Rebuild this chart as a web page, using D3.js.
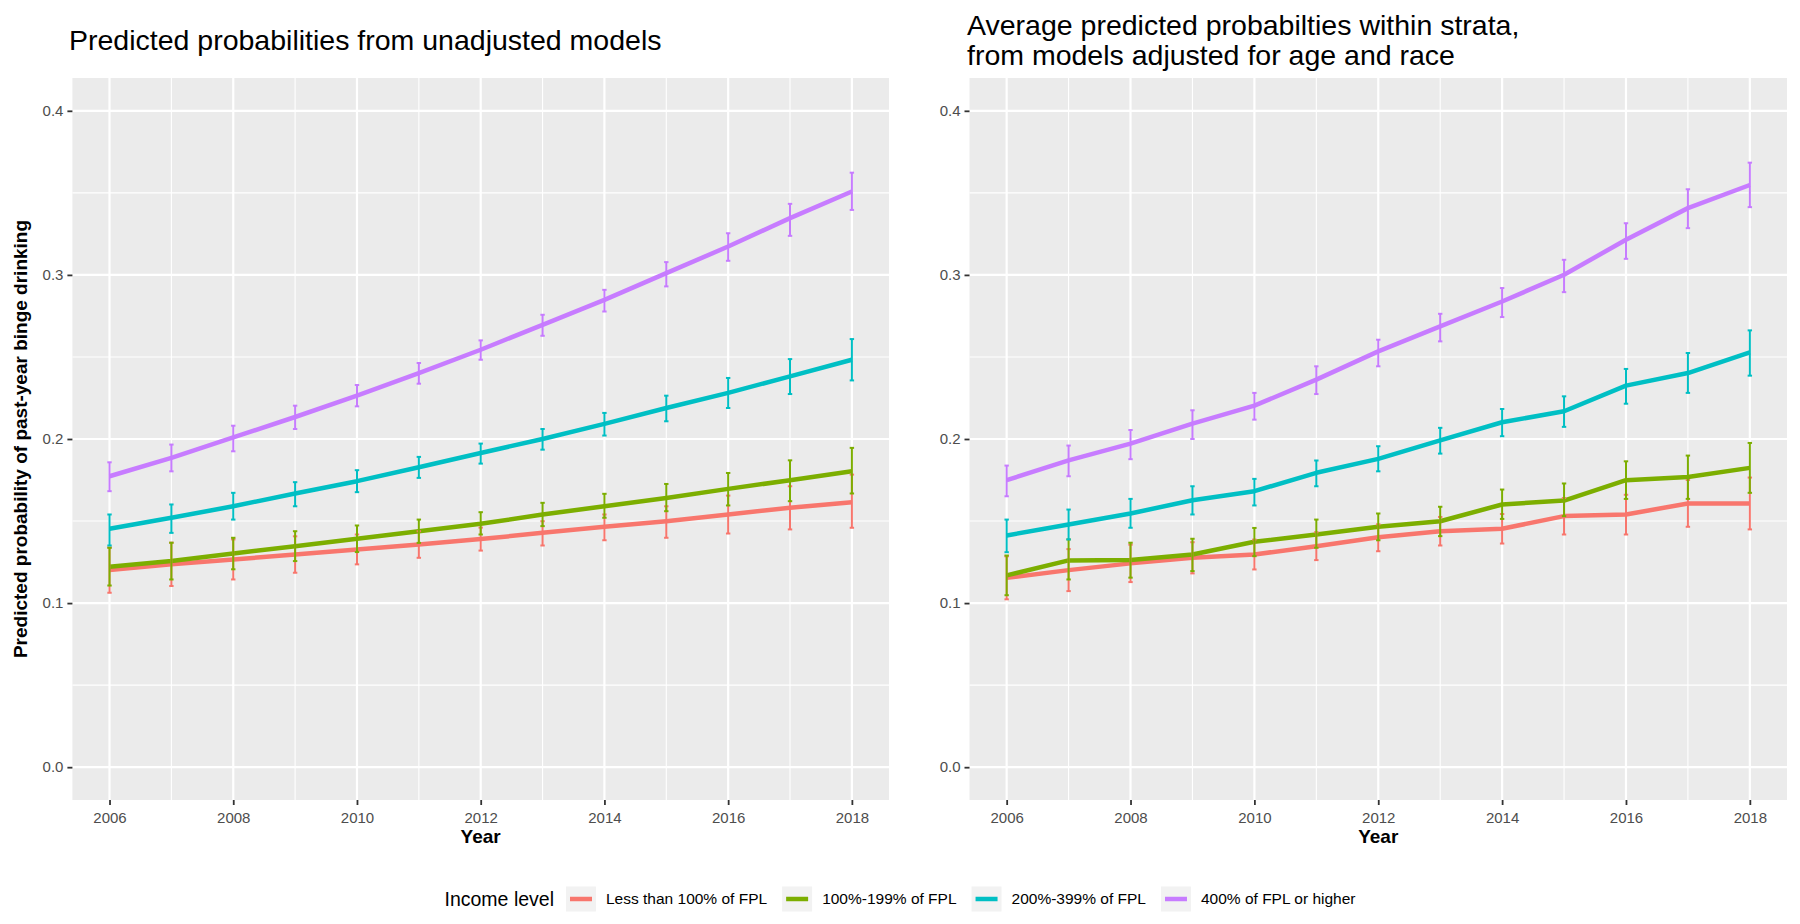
<!DOCTYPE html>
<html><head><meta charset="utf-8">
<script src="https://cdn.jsdelivr.net/npm/d3@7"></script>
<style>
body{margin:0;background:#fff}
svg{display:block}
text{font-family:"Liberation Sans", Arial, Helvetica, sans-serif}
</style>
</head><body>
<svg id="chart" width="1800" height="924"></svg>
<script>
// ---------------- DATA ----------------
const years = [2006,2007,2008,2009,2010,2011,2012,2013,2014,2015,2016,2017,2018];
const incomeLevels = ["Less than 100% of FPL","100%-199% of FPL","200%-399% of FPL","400% of FPL or higher"];
const incomeColors = ["#F8766D","#7CAE00","#00BFC4","#C77CFF"];
const yTicks = [0.0,0.1,0.2,0.3,0.4];
const xTicks = [2006,2008,2010,2012,2014,2016,2018];
const titleLeft = ["Predicted probabilities from unadjusted models"];
const titleRight = ["Average predicted probabilties within strata,","from models adjusted for age and race"];
const xTitle = "Year";
const yTitle = "Predicted probability of past-year binge drinking";
const legendTitle = "Income level";

// Unadjusted models (left panel)
const unadjLt100    = [0.1201,0.1236,0.1266,0.1296,0.1327,0.1357,0.1390,0.1428,0.1465,0.1499,0.1540,0.1581,0.1615];
const unadjLt100Lo  = [0.1063,0.1104,0.1144,0.1185,0.1236,0.1276,0.1320,0.1351,0.1383,0.1398,0.1424,0.1449,0.1459];
const unadjLt100Hi  = [0.1339,0.1368,0.1388,0.1407,0.1418,0.1438,0.1460,0.1499,0.1540,0.1590,0.1655,0.1712,0.1783];
const unadj100      = [0.1222,0.1256,0.1302,0.1347,0.1392,0.1438,0.1483,0.1540,0.1590,0.1641,0.1696,0.1749,0.1803];
const unadj100Lo    = [0.1107,0.1144,0.1206,0.1256,0.1311,0.1367,0.1418,0.1469,0.1520,0.1560,0.1595,0.1621,0.1668];
const unadj100Hi    = [0.1337,0.1368,0.1398,0.1438,0.1473,0.1509,0.1554,0.1611,0.1666,0.1726,0.1793,0.1870,0.1946];
const unadj200      = [0.1453,0.1520,0.1590,0.1668,0.1743,0.1828,0.1915,0.2000,0.2092,0.2189,0.2281,0.2382,0.2483];
const unadj200Lo    = [0.1351,0.1428,0.1509,0.1590,0.1676,0.1763,0.1850,0.1935,0.2021,0.2108,0.2189,0.2274,0.2357];
const unadj200Hi    = [0.1540,0.1601,0.1672,0.1737,0.1810,0.1891,0.1972,0.2061,0.2159,0.2264,0.2372,0.2487,0.2609];
const unadj400      = [0.1773,0.1885,0.2010,0.2134,0.2264,0.2402,0.2544,0.2696,0.2848,0.3011,0.3173,0.3346,0.3508];
const unadj400Lo    = [0.1682,0.1803,0.1925,0.2061,0.2199,0.2337,0.2483,0.2629,0.2777,0.2930,0.3086,0.3238,0.3396];
const unadj400Hi    = [0.1858,0.1966,0.2081,0.2203,0.2329,0.2463,0.2601,0.2757,0.2909,0.3078,0.3254,0.3433,0.3623];

// Adjusted models (right panel)
const adjLt100      = [0.1154,0.1201,0.1242,0.1276,0.1296,0.1347,0.1401,0.1438,0.1453,0.1530,0.1540,0.1607,0.1607];
const adjLt100Lo    = [0.1023,0.1073,0.1128,0.1181,0.1205,0.1262,0.1316,0.1351,0.1363,0.1418,0.1418,0.1465,0.1449];
const adjLt100Hi    = [0.1285,0.1329,0.1356,0.1371,0.1387,0.1432,0.1480,0.1525,0.1543,0.1640,0.1660,0.1750,0.1765];
const adj100        = [0.1169,0.1260,0.1262,0.1296,0.1374,0.1418,0.1465,0.1499,0.1601,0.1625,0.1749,0.1768,0.1824];
const adj100Lo      = [0.1048,0.1144,0.1155,0.1195,0.1286,0.1337,0.1383,0.1408,0.1513,0.1530,0.1635,0.1635,0.1672];
const adj100Hi      = [0.1290,0.1388,0.1368,0.1392,0.1458,0.1509,0.1546,0.1587,0.1692,0.1729,0.1864,0.1899,0.1976];
const adj200        = [0.1412,0.1479,0.1546,0.1627,0.1682,0.1794,0.1879,0.1992,0.2102,0.2169,0.2325,0.2402,0.2528];
const adj200Lo      = [0.1310,0.1388,0.1459,0.1540,0.1595,0.1712,0.1803,0.1911,0.2017,0.2074,0.2215,0.2281,0.2386];
const adj200Hi      = [0.1509,0.1570,0.1635,0.1712,0.1757,0.1869,0.1956,0.2068,0.2183,0.2260,0.2427,0.2524,0.2662];
const adj400        = [0.1749,0.1870,0.1972,0.2094,0.2203,0.2362,0.2534,0.2686,0.2838,0.3001,0.3214,0.3407,0.3548];
const adj400Lo      = [0.1651,0.1773,0.1877,0.2000,0.2118,0.2274,0.2443,0.2595,0.2743,0.2895,0.3098,0.3285,0.3413];
const adj400Hi      = [0.1838,0.1960,0.2055,0.2175,0.2281,0.2443,0.2605,0.2763,0.2920,0.3092,0.3315,0.3522,0.3684];

const unadjSeries = [[unadjLt100,unadjLt100Lo,unadjLt100Hi],[unadj100,unadj100Lo,unadj100Hi],[unadj200,unadj200Lo,unadj200Hi],[unadj400,unadj400Lo,unadj400Hi]];
const adjSeries = [[adjLt100,adjLt100Lo,adjLt100Hi],[adj100,adj100Lo,adj100Hi],[adj200,adj200Lo,adj200Hi],[adj400,adj400Lo,adj400Hi]];

// ---------------- DRAW ----------------
const svg = d3.select("#chart");
svg.append("rect").attr("width",1800).attr("height",924).attr("fill","#fff");

const panelTop = 78, panelBottom = 800;
const y = d3.scaleLinear().domain([-0.02, 0.42]).range([panelBottom, panelTop]);

function panel(x0, x1, series, titleLines, titleX, titleY0, showYTitle) {
  const x = d3.scaleLinear().domain([2005.4, 2018.6]).range([x0, x1]);
  const g = svg.append("g");
  g.append("rect").attr("x",x0).attr("y",panelTop).attr("width",x1-x0).attr("height",panelBottom-panelTop).attr("fill","#EBEBEB");
  const yMinor = [0.05,0.15,0.25,0.35];
  const xMinor = [2007,2009,2011,2013,2015,2017];
  g.selectAll(".ymin").data(yMinor).join("line")
    .attr("x1",x0).attr("x2",x1).attr("y1",d=>y(d)).attr("y2",d=>y(d))
    .attr("stroke","#fff").attr("stroke-width",1.1);
  g.selectAll(".xmin").data(xMinor).join("line")
    .attr("y1",panelTop).attr("y2",panelBottom).attr("x1",d=>x(d)).attr("x2",d=>x(d))
    .attr("stroke","#fff").attr("stroke-width",1.1);
  g.selectAll(".ymaj").data(yTicks).join("line")
    .attr("x1",x0).attr("x2",x1).attr("y1",d=>y(d)).attr("y2",d=>y(d))
    .attr("stroke","#fff").attr("stroke-width",2.2);
  g.selectAll(".xmaj").data(xTicks).join("line")
    .attr("y1",panelTop).attr("y2",panelBottom).attr("x1",d=>x(d)).attr("x2",d=>x(d))
    .attr("stroke","#fff").attr("stroke-width",2.2);

  const line = d3.line().x((d,i)=>x(years[i])).y(d=>y(d));
  series.forEach((s,k)=>{
    g.append("path").attr("d", line(s[0])).attr("fill","none")
      .attr("stroke", incomeColors[k]).attr("stroke-width",4.5)
      .attr("stroke-linejoin","round");
  });
  series.forEach((s,k)=>{
    const eb = g.append("g").attr("stroke", incomeColors[k]).attr("stroke-width",2).attr("fill","none");
    years.forEach((yr,i)=>{
      const cx = x(yr), lo = y(s[1][i]), hi = y(s[2][i]);
      eb.append("line").attr("x1",cx).attr("x2",cx).attr("y1",lo).attr("y2",hi);
      eb.append("line").attr("x1",cx-2.2).attr("x2",cx+2.2).attr("y1",lo).attr("y2",lo);
      eb.append("line").attr("x1",cx-2.2).attr("x2",cx+2.2).attr("y1",hi).attr("y2",hi);
    });
  });

  const ax = g.append("g").attr("transform",`translate(0,${panelBottom})`)
    .call(d3.axisBottom(x).tickValues(xTicks).tickFormat(d3.format("d")).tickSizeOuter(0).tickSize(5).tickPadding(4));
  const ay = g.append("g").attr("transform",`translate(${x0},0)`)
    .call(d3.axisLeft(y).tickValues(yTicks).tickFormat(d3.format(".1f")).tickSizeOuter(0).tickSize(5).tickPadding(4));
  [ax, ay].forEach(a=>{
    a.select(".domain").remove();
    a.selectAll(".tick line").attr("stroke","#333").attr("stroke-width",1.8);
    a.selectAll(".tick text").attr("fill","#4D4D4D").style("font-size","15px")
      .style("font-family",'"Liberation Sans", Arial, sans-serif');
  });
  ax.selectAll(".tick text").attr("dy","0.95em");

  g.append("text").attr("x",(x0+x1)/2).attr("y",843).attr("text-anchor","middle")
    .style("font-size","19px").style("font-weight","bold").attr("fill","#000").text(xTitle);

  if (showYTitle) {
    g.append("text").attr("transform",`translate(27,${(panelTop+panelBottom)/2}) rotate(-90)`)
      .attr("text-anchor","middle").style("font-size","19px").style("font-weight","bold")
      .attr("fill","#000").text(yTitle);
  }
  titleLines.forEach((t,i)=>{
    g.append("text").attr("x",titleX).attr("y",titleY0 + i*30)
      .style("font-size","28.5px").attr("fill","#000").text(t);
  });
}

panel(72.4, 889, unadjSeries, titleLeft, 69, 50, true);
panel(969.5, 1787, adjSeries, titleRight, 967, 35, false);

const lg = svg.append("g");
const ly = 899;
const lt = lg.append("text").attr("x",0).attr("y",ly).attr("dy","0.35em")
  .style("font-size","19.5px").attr("fill","#000").text(legendTitle);
let cx = lt.node().getComputedTextLength() + 12;
const keyW = 30, keyH = 25;
incomeLevels.forEach((lab,k)=>{
  lg.append("rect").attr("x",cx).attr("y",ly-keyH/2).attr("width",keyW).attr("height",keyH).attr("fill","#F2F2F2");
  lg.append("line").attr("x1",cx+4).attr("x2",cx+keyW-4).attr("y1",ly).attr("y2",ly)
    .attr("stroke",incomeColors[k]).attr("stroke-width",4.5);
  cx += keyW + 10;
  const t = lg.append("text").attr("x",cx).attr("y",ly).attr("dy","0.35em")
    .style("font-size","15.5px").attr("fill","#000").text(lab);
  cx += t.node().getComputedTextLength();
  if (k < incomeLevels.length-1) cx += 15;
});
lg.attr("transform",`translate(${900 - cx/2},0)`);
</script>
</body></html>
